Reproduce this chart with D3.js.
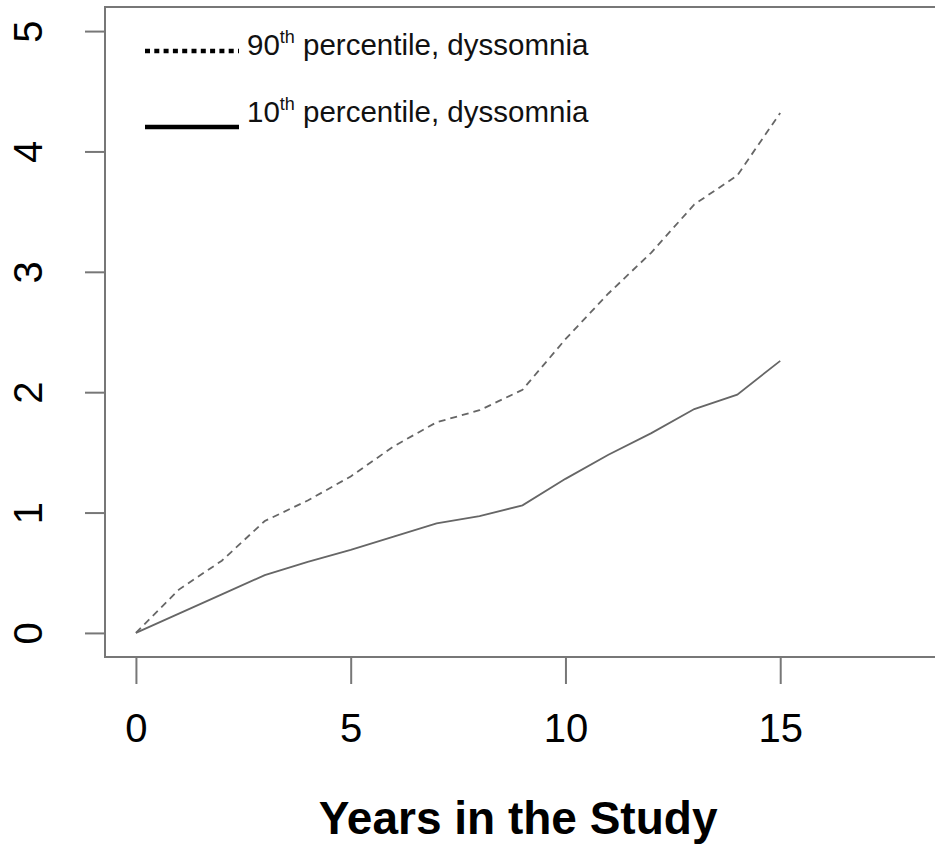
<!DOCTYPE html>
<html>
<head>
<meta charset="utf-8">
<script src="https://cdn.jsdelivr.net/npm/d3@7"></script>
<style>
	body { margin: 0; background: #fff; }
	svg { display: block; font-family: "Liberation Sans", Arial, sans-serif; }
</style>
</head>
<body>
<svg id="chart" width="935" height="850"></svg>
<script>
// data
var years = [0, 1, 2, 3, 4, 5, 6, 7, 8, 9, 10, 11, 12, 13, 14, 15];
var p90 = [0, 0.36, 0.60, 0.93, 1.10, 1.30, 1.55, 1.75, 1.85, 2.02, 2.44, 2.82, 3.16, 3.56, 3.80, 4.32];
var p10 = [0, 0.16, 0.32, 0.48, 0.59, 0.69, 0.80, 0.91, 0.97, 1.06, 1.28, 1.48, 1.66, 1.86, 1.98, 2.26];
var xTicks = [0, 5, 10, 15];
var yTicks = [0, 1, 2, 3, 4, 5];
var xTitle = "Years in the Study";
var legendItems = [
	{ num: "90", sup: "th", rest: " percentile, dyssomnia", dash: "5,4.3" },
	{ num: "10", sup: "th", rest: " percentile, dyssomnia", dash: null }
];

(function(){
	'use strict';

	var svg = d3.select("#chart");
	var box = { left: 105, top: 7, right: 940, bottom: 657 };

	// R style: 4% padding around the data limits
	var x = d3.scaleLinear().domain([-0.72, 18.72]).range([box.left, box.right]);
	var y = d3.scaleLinear().domain([-0.2, 5.2]).range([box.bottom, box.top]);

	var axisColor = "#777";
	var lineColor = "#666";

	// frame
	svg.append("rect")
		.attr("x", box.left)
		.attr("y", box.top)
		.attr("width", box.right - box.left)
		.attr("height", box.bottom - box.top)
		.attr("fill", "none")
		.attr("stroke", axisColor)
		.attr("stroke-width", 2);

	// x axis
	var xAxis = d3.axisBottom(x).tickValues(xTicks).tickSize(27).tickPadding(30).tickFormat(d3.format("d"));
	var gx = svg.append("g")
		.attr("transform", "translate(0," + box.bottom + ")")
		.call(xAxis);
	gx.select(".domain").remove();
	gx.selectAll(".tick line").attr("stroke", axisColor).attr("stroke-width", 2);
	gx.selectAll(".tick text")
		.attr("fill", "#000")
		.attr("font-size", 40)
		.attr("font-family", null);

	// y axis, labels parallel to the axis
	var yAxis = d3.axisLeft(y).tickValues(yTicks).tickSize(20).tickPadding(0).tickFormat(d3.format("d"));
	var gy = svg.append("g")
		.attr("transform", "translate(" + box.left + ",0)")
		.call(yAxis);
	gy.select(".domain").remove();
	gy.selectAll(".tick line").attr("stroke", axisColor).attr("stroke-width", 2);
	gy.selectAll(".tick text")
		.attr("x", null)
		.attr("dy", null)
		.attr("fill", "#000")
		.attr("font-size", 40)
		.attr("font-family", null)
		.attr("text-anchor", "middle")
		.attr("transform", "translate(-63,0) rotate(-90)");

	// axis title
	svg.append("text")
		.attr("x", (x(0) + x(15)) / 2 + 60)
		.attr("y", 834)
		.attr("text-anchor", "middle")
		.attr("font-size", 46)
		.attr("font-weight", "bold")
		.text(xTitle);

	// lines
	var line = d3.line()
		.x(function(d){ return x(d[0]); })
		.y(function(d){ return y(d[1]); });

	svg.append("path")
		.datum(d3.zip(years, p90))
		.attr("d", line)
		.attr("fill", "none")
		.attr("stroke", lineColor)
		.attr("stroke-width", 1.8)
		.attr("stroke-dasharray", "7,5");

	svg.append("path")
		.datum(d3.zip(years, p10))
		.attr("d", line)
		.attr("fill", "none")
		.attr("stroke", lineColor)
		.attr("stroke-width", 1.8);

	// legend: the sample line sits lower in the second row
	var legend = svg.append("g").attr("transform", "translate(145,0)");
	var rows = legend.selectAll("g")
		.data(legendItems)
	.enter().append("g");

	rows.append("line")
		.attr("x1", 0)
		.attr("x2", 94)
		.attr("y1", function(d, i){ return 51 + i * 76; })
		.attr("y2", function(d, i){ return 51 + i * 76; })
		.attr("stroke", "#000")
		.attr("stroke-width", 4.5)
		.attr("stroke-dasharray", function(d){ return d.dash; });

	var label = rows.append("text")
		.attr("x", 102)
		.attr("y", function(d, i){ return 55 + i * 67; })
		.attr("font-size", 29.5)
		.attr("fill", "#111");
	label.append("tspan").text(function(d){ return d.num; });
	label.append("tspan")
		.attr("font-size", 18)
		.attr("dy", -12)
		.text(function(d){ return d.sup; });
	label.append("tspan")
		.attr("dy", 12)
		.text(function(d){ return d.rest; });
}());
</script>
</body>
</html>
